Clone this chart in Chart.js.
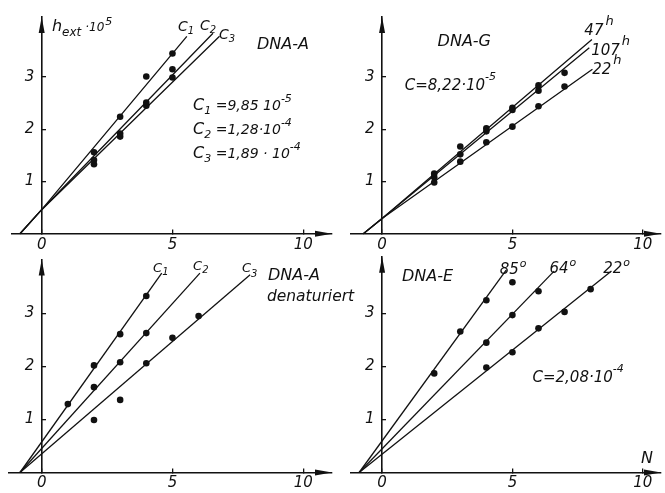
<!DOCTYPE html>
<html lang="de">
<head>
<meta charset="UTF-8">
<title>h_ext gegen N</title>
<script src="https://cdn.jsdelivr.net/npm/chart.js@4.4.0/dist/chart.umd.min.js"></script>
<style>
  html, body { margin: 0; padding: 0; background: #fff; }
  #wrap { position: relative; width: 665px; height: 493px; }
  #wrap canvas { position: absolute; left: 0; top: 0; }
</style>
</head>
<body>
<div id="wrap">
  <canvas id="pA" width="665" height="493"></canvas>
  <canvas id="pG" width="665" height="493"></canvas>
  <canvas id="pD" width="665" height="493"></canvas>
  <canvas id="pE" width="665" height="493"></canvas>
</div>
<script>
// tick labels shared by all four panels
const xTicks = [0, 5, 10];
const yTicks = [1, 2, 3];

// DNA-A (top left): h_ext*10^5 against N for three concentrations
const nA = [2, 3, 4, 5];
const hA1 = [1.56, 2.24, 3.01, 3.45];
const hA2 = [1.41, 1.92, 2.51, 3.15];
const hA3 = [1.33, 1.86, 2.45, 2.99];
const fitA1 = [[-0.83, 0], [0, 0.46], [5.55, 3.78]];
const fitA2 = [[-0.83, 0], [0, 0.46], [6.55, 3.84]];
const fitA3 = [[-0.83, 0], [0, 0.46], [6.8, 3.78]];

// DNA-G (top right): 47 h, 107 h, 22 h
const nG47 = [2, 3, 4, 5, 6];
const hG47 = [1.15, 1.67, 2.02, 2.41, 2.84];
const nG107 = [2, 3, 4, 5, 6, 7];
const hG107 = [1.08, 1.52, 1.96, 2.37, 2.74, 3.08];
const nG22 = [2, 3, 4, 5, 6, 7];
const hG22 = [0.98, 1.38, 1.75, 2.05, 2.44, 2.82];
const fitG47 = [[-0.72, 0], [0, 0.29], [8.05, 3.72]];
const fitG107 = [[-0.72, 0], [0, 0.29], [7.95, 3.56]];
const fitG22 = [[-0.72, 0], [0, 0.29], [8.07, 3.15]];

// DNA-A denaturiert (bottom left)
const nD1 = [1, 2, 3, 4];
const hD1 = [1.29, 2.02, 2.61, 3.33];
const nD2 = [2, 3, 4];
const hD2 = [1.61, 2.08, 2.63];
const nD3 = [2, 3, 4, 5, 6];
const hD3 = [0.99, 1.37, 2.06, 2.54, 2.95];
const fitD1 = [[-0.83, 0], [4.59, 3.76]];
const fitD2 = [[-0.83, 0], [6.05, 3.76]];
const fitD3 = [[-0.83, 0], [7.97, 3.73]];

// DNA-E (bottom right): 85, 64 and 22 degrees
const nE85 = [2, 3, 4, 5];
const hE85 = [1.87, 2.66, 3.25, 3.59];
const nE64 = [4, 5, 6];
const hE64 = [2.45, 2.97, 3.42];
const nE22 = [4, 5, 6, 7, 8];
const hE22 = [1.98, 2.27, 2.72, 3.03, 3.46];
const fitE85 = [[-0.88, 0], [4.76, 3.82]];
const fitE64 = [[-0.88, 0], [6.6, 3.8]];
const fitE22 = [[-0.88, 0], [8.8, 3.8]];

const ink = '#111';
const face = '"DejaVu Sans", sans-serif';

function pts(xs, ys) {
  return xs.map((x, i) => ({x: x, y: ys[i]}));
}
function dots(xs, ys) {
  return {data: pts(xs, ys), showLine: false, pointRadius: 3.3, pointBackgroundColor: ink,
          pointBorderWidth: 0, clip: false};
}
function fit(pairs) {
  return {data: pairs.map(p => ({x: p[0], y: p[1]})), showLine: true, pointRadius: 0,
          borderColor: ink, borderWidth: 1.3, clip: false};
}

// free text and the two axis arrows
const notes = {
  id: 'notes',
  afterDraw(chart, args, opts) {
    const ctx = chart.ctx;
    const sx = chart.scales.x, sy = chart.scales.y;
    ctx.save();
    ctx.fillStyle = ink;
    ctx.textBaseline = 'alphabetic';
    (opts.items || []).forEach(item => {
      let px = sx.getPixelForValue(item.at[0]);
      const py = sy.getPixelForValue(item.at[1]);
      item.runs.forEach(r => {
        ctx.font = 'italic ' + r[1] + 'px ' + face;
        px += r[3] || 0;
        ctx.fillText(r[0], px, py + (r[2] || 0));
        px += ctx.measureText(r[0]).width;
      });
    });
    // arrow heads
    const ax = sx.getPixelForValue(0), ay = sy.getPixelForValue(0);
    ctx.beginPath();
    ctx.moveTo(ax, sy.top);
    ctx.lineTo(ax - 3, sy.top + 16);
    ctx.lineTo(ax + 3, sy.top + 16);
    ctx.closePath();
    ctx.fill();
    ctx.beginPath();
    ctx.moveTo(sx.right, ay);
    ctx.lineTo(sx.right - 17, ay - 3);
    ctx.lineTo(sx.right - 17, ay + 3);
    ctx.closePath();
    ctx.fill();
    ctx.restore();
  }
};

function makePanel(id, area, xmin, xmax, ymax, datasets, items) {
  return new Chart(document.getElementById(id), {
    type: 'scatter',
    data: {datasets: datasets},
    plugins: [notes],
    options: {
      responsive: false,
      animation: false,
      layout: {padding: area},
      plugins: {legend: {display: false}, tooltip: {enabled: false}, notes: {items: items}},
      scales: {
        x: {
          type: 'linear', min: xmin, max: xmax, position: {y: 0},
          afterFit: s => { s.height = 0; },
          afterBuildTicks: s => { s.ticks = xTicks.map(v => ({value: v})); },
          grid: {drawOnChartArea: false, drawTicks: true, tickLength: -5, color: ink, lineWidth: 1.3},
          border: {display: true, color: ink, width: 1.6},
          ticks: {color: ink, font: {family: face, size: 15, style: 'italic'}, padding: 7,
                  autoSkip: false, maxRotation: 0, callback: v => String(v)}
        },
        y: {
          type: 'linear', min: 0, max: ymax, position: {x: 0},
          afterFit: s => { s.width = 0; },
          afterBuildTicks: s => { s.ticks = yTicks.map(v => ({value: v})); },
          grid: {drawOnChartArea: false, drawTicks: true, tickLength: -5, color: ink, lineWidth: 1.3},
          border: {display: true, color: ink, width: 1.6},
          ticks: {color: ink, font: {family: face, size: 15, style: 'italic'}, padding: 8,
                  autoSkip: false, callback: v => v + '\u2002'}
        }
      }
    }
  });
}

// top left
makePanel('pA', {left: 11.6, right: 333, top: 13.7, bottom: 259.3}, -1.15, 11.1, 4.15, [
  dots(nA, hA1), dots(nA, hA2), dots(nA, hA3),
  fit(fitA1), fit(fitA2), fit(fitA3)
], [
  {at: [0.39, 3.89], runs: [['h', 16, 0], ['ext', 12, 5], ['\u00b710', 12, 0, 4], ['5', 11, -6, 1]]},
  {at: [5.21, 3.88], runs: [['C', 14, 0], ['1', 10, 3]]},
  {at: [6.05, 3.90], runs: [['C', 14, 0], ['2', 10, 3]]},
  {at: [6.78, 3.73], runs: [['C', 14, 0], ['3', 10, 3]]},
  {at: [8.23, 3.53], runs: [['DNA-A', 16, 0]]},
  {at: [5.79, 2.37], runs: [['C', 16, 0], ['1', 11, 4], [' =9,85 10', 14, 0], ['-5', 11, -8]]},
  {at: [5.79, 1.90], runs: [['C', 16, 0], ['2', 11, 4], [' =1,28\u00b710', 14, 0], ['-4', 11, -8]]},
  {at: [5.79, 1.45], runs: [['C', 16, 0], ['3', 11, 4], [' =1,89 \u00b7 10', 14, 0], ['-4', 11, -8]]}
]);

// top right
makePanel('pG', {left: 350.8, right: 3, top: 13.7, bottom: 259.3}, -1.2, 10.7, 4.15, [
  dots(nG47, hG47), dots(nG107, hG107), dots(nG22, hG22),
  fit(fitG47), fit(fitG107), fit(fitG22)
], [
  {at: [2.13, 3.60], runs: [['DNA-G', 16, 0]]},
  {at: [7.76, 3.81], runs: [['47', 15, 0], ['h', 13, -10, 2]]},
  {at: [8.02, 3.43], runs: [['107', 15, 0], ['h', 13, -10, 2]]},
  {at: [8.06, 3.05], runs: [['22', 15, 0], ['h', 13, -10, 2]]},
  {at: [0.87, 2.75], runs: [['C=8,22\u00b710', 15, 0], ['-5', 11, -10]]}
]);

// bottom left
makePanel('pD', {left: 9.0, right: 333, top: 259.4, bottom: 20.5}, -1.25, 11.1, 4.02, [
  dots(nD1, hD1), dots(nD2, hD2), dots(nD3, hD3),
  fit(fitD1), fit(fitD2), fit(fitD3)
], [
  {at: [4.26, 3.78], runs: [['C', 13, 0], ['1', 10, 3]]},
  {at: [5.79, 3.82], runs: [['C', 13, 0], ['2', 10, 3]]},
  {at: [7.66, 3.78], runs: [['C', 13, 0], ['3', 10, 5]]},
  {at: [8.65, 3.63], runs: [['DNA-A', 16, 0]]},
  {at: [8.61, 3.24], runs: [['denaturiert', 15.5, 0]]}
]);

// bottom right
makePanel('pE', {left: 350.8, right: 3, top: 256.8, bottom: 20.5}, -1.2, 10.7, 4.07, [
  dots(nE85, hE85), dots(nE64, hE64), dots(nE22, hE22),
  fit(fitE85), fit(fitE64), fit(fitE22)
], [
  {at: [0.76, 3.61], runs: [['DNA-E', 16, 0]]},
  {at: [4.51, 3.75], runs: [['85', 15, 0], ['o', 11, -7, 1]]},
  {at: [6.42, 3.76], runs: [['64', 15, 0], ['o', 11, -7, 1]]},
  {at: [8.48, 3.76], runs: [['22', 15, 0], ['o', 11, -7, 1]]},
  {at: [5.77, 1.71], runs: [['C=2,08\u00b710', 15, 0], ['-4', 11, -10]]},
  {at: [9.93, 0.18], runs: [['N', 16, 0]]}
]);
</script>
</body>
</html>
